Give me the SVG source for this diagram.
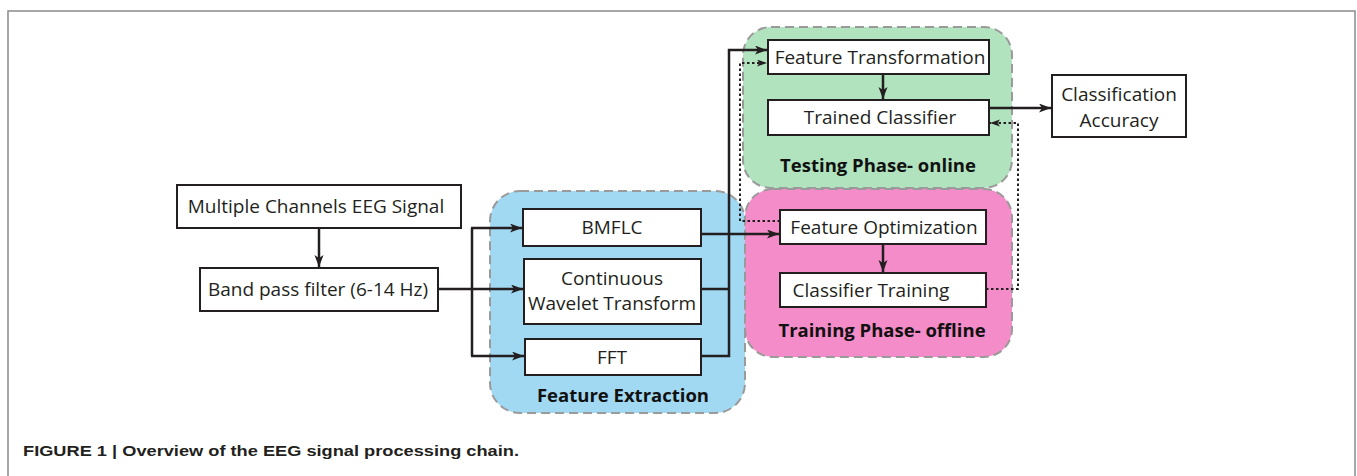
<svg xmlns="http://www.w3.org/2000/svg" width="1357" height="476" viewBox="0 0 1357 476">
  <style>
    .frame { fill: none; stroke: #8a8a8a; stroke-width: 1.5; }
    .region { stroke: #9a9a9a; stroke-width: 2; stroke-dasharray: 9 5; }
    .box { fill: #ffffff; stroke: #231f20; stroke-width: 2; }
    .lbl { font-family: "Open Sans", "Liberation Sans", sans-serif; font-size: 19px; fill: #231f20; text-anchor: middle; }
    .title { font-family: "Open Sans", "Liberation Sans", sans-serif; font-size: 18.5px; font-weight: bold; fill: #111; text-anchor: middle; }
    .solid { fill: none; stroke: #231f20; stroke-width: 2.5; }
    .dot { fill: none; stroke: #231f20; stroke-width: 2; stroke-dasharray: 2.5 2.5; }
    .caption { font-family: "Liberation Sans", Arial, sans-serif; font-size: 15px; font-weight: bold; fill: #231f20; }
  </style>
  <defs>
    <marker id="arr" markerUnits="userSpaceOnUse" markerWidth="14" markerHeight="10" refX="12" refY="4.5" orient="auto">
      <path d="M0,0 L12,4.5 L0,9 L3,4.5 z" fill="#231f20"/>
    </marker>
    <marker id="arrs" markerUnits="userSpaceOnUse" markerWidth="12" markerHeight="8" refX="10" refY="3.5" orient="auto">
      <path d="M0,0 L10,3.5 L0,7 L2.5,3.5 z" fill="#231f20"/>
    </marker>
  </defs>

  <!-- outer frame -->
  <path class="frame" d="M8,476 V11 H1355 V476"/>

  <!-- phase regions -->
  <g id="region-extraction">
    <rect class="region" x="490" y="191" width="255" height="222" rx="30" fill="#a2d9f2"/>
    <text class="title" x="623" y="402">Feature Extraction</text>
  </g>
  <g id="region-testing">
    <rect class="region" x="743" y="27" width="269" height="161" rx="28" fill="#b0e3be"/>
    <text class="title" x="878" y="172">Testing Phase- online</text>
  </g>
  <g id="region-training">
    <rect class="region" x="745" y="189" width="267" height="168" rx="28" fill="#f48cc9"/>
    <text class="title" x="882" y="337">Training Phase- offline</text>
  </g>

  <!-- connectors -->
  <g id="connectors">
    <path class="solid" d="M319,228 V267" marker-end="url(#arr)"/>
    <path class="solid" d="M438,289 H523" marker-end="url(#arr)"/>
    <path class="solid" d="M472,228 V356"/>
    <path class="solid" d="M471,228 H522" marker-end="url(#arr)"/>
    <path class="solid" d="M471,356 H524" marker-end="url(#arr)"/>
    <path class="solid" d="M701,234 H779" marker-end="url(#arr)"/>
    <path class="solid" d="M701,289 H729"/>
    <path class="solid" d="M701,356 H729 V50 H767" marker-end="url(#arr)"/>
    <path class="dot" d="M780,221 H740 V63 H767" marker-end="url(#arrs)"/>
    <path class="dot" d="M986,289 H1018 V123 H990" marker-end="url(#arrs)"/>
    <path class="solid" d="M883,74 V99" marker-end="url(#arr)"/>
    <path class="solid" d="M883,244 V272" marker-end="url(#arr)"/>
    <path class="solid" d="M989,108 H1051" marker-end="url(#arr)"/>
  </g>

  <!-- process nodes -->
  <g id="node-eeg">
    <rect class="box" x="177" y="185" width="284" height="43"/>
    <text class="lbl" x="316" y="213">Multiple Channels EEG Signal</text>
  </g>
  <g id="node-bandpass">
    <rect class="box" x="200" y="268" width="238" height="43"/>
    <text class="lbl" x="318" y="296">Band pass filter (6-14 Hz)</text>
  </g>
  <g id="node-bmflc">
    <rect class="box" x="523" y="209" width="178" height="37"/>
    <text class="lbl" x="612" y="234">BMFLC</text>
  </g>
  <g id="node-cwt">
    <rect class="box" x="524" y="259" width="177" height="65"/>
    <text class="lbl" x="612" y="285">Continuous</text>
    <text class="lbl" x="612" y="310">Wavelet Transform</text>
  </g>
  <g id="node-fft">
    <rect class="box" x="525" y="339" width="176" height="36"/>
    <text class="lbl" x="612" y="364">FFT</text>
  </g>
  <g id="node-feat-transform">
    <rect class="box" x="768" y="40" width="221" height="34"/>
    <text class="lbl" x="880" y="64">Feature Transformation</text>
  </g>
  <g id="node-trained-classifier">
    <rect class="box" x="768" y="100" width="221" height="35"/>
    <text class="lbl" x="880" y="124">Trained Classifier</text>
  </g>
  <g id="node-feat-opt">
    <rect class="box" x="780" y="210" width="206" height="34"/>
    <text class="lbl" x="884" y="234">Feature Optimization</text>
  </g>
  <g id="node-classifier-training">
    <rect class="box" x="780" y="273" width="206" height="34"/>
    <text class="lbl" x="871" y="297">Classifier Training</text>
  </g>
  <g id="node-accuracy">
    <rect class="box" x="1052" y="75" width="134" height="62"/>
    <text class="lbl" x="1119" y="101">Classification</text>
    <text class="lbl" x="1119" y="127">Accuracy</text>
  </g>

  <text class="caption" x="23" y="456" textLength="496" lengthAdjust="spacingAndGlyphs">FIGURE 1 | Overview of the EEG signal processing chain.</text>
</svg>
